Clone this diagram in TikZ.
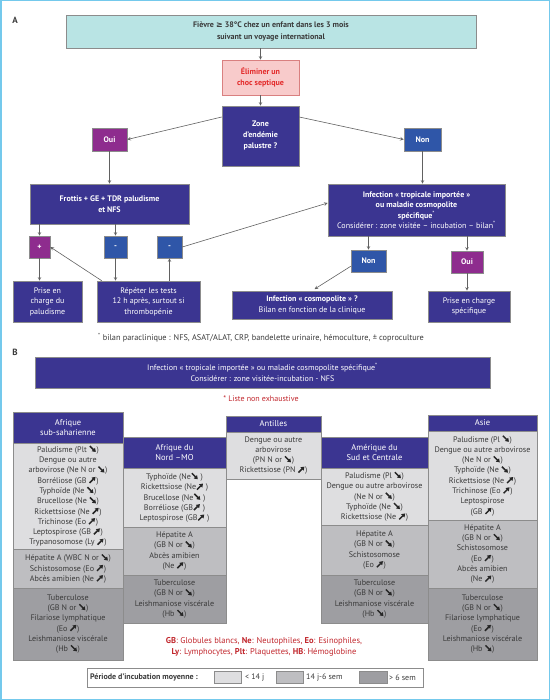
\documentclass[tikz,border=0pt]{standalone}
\usepackage{fontspec}
\setmainfont{PT Sans}
\newfontfamily\symfont{DejaVu Sans}
\usepackage{tikz}
\usetikzlibrary{arrows,arrows.meta,backgrounds,calc}

\definecolor{cadre}{HTML}{74C9EC}
\definecolor{cyanfond}{HTML}{B9E4E4}
\definecolor{rosefond}{HTML}{F8CBCB}
\definecolor{rosebord}{HTML}{D98080}
\definecolor{rougetxt}{HTML}{E32B2B}
\definecolor{rougelg}{HTML}{C1272D}
\definecolor{bleufonce}{HTML}{3B3591}
\definecolor{bleumoyen}{HTML}{2F56A8}
\definecolor{violet}{HTML}{8E2C8E}
\definecolor{gris1}{HTML}{DEDEE0}
\definecolor{gris2}{HTML}{BEBEC1}
\definecolor{gris3}{HTML}{9E9EA2}
\definecolor{bord}{HTML}{8C8C8C}
\definecolor{texte}{HTML}{3A3A3A}

% fleches grasses (baisse / hausse)
\newcommand{\bas}{\tikz[baseline=0pt, x=1pt, y=1pt]\draw[line width=1.5pt, -{Triangle[length=3.4pt,width=4.4pt]}, black!85] (0.3,6.3) -- (6.3,0.3);}
\newcommand{\haut}{\tikz[baseline=0pt, x=1pt, y=1pt]\draw[line width=1.5pt, -{Triangle[length=3.4pt,width=4.4pt]}, black!85] (0.3,0.3) -- (6.3,6.3);}

\tikzset{
  sz/.style 2 args={minimum width=#1, minimum height=#2},
  boite/.style={draw=bord, line width=0.6pt, align=center, inner sep=0pt,
    font=\fontsize{8}{10.5}\selectfont},
  cyanbox/.style={boite, fill=cyanfond, text=texte, font=\fontsize{8}{12}\selectfont\bfseries},
  rosebox/.style={boite, draw=rosebord, fill=rosefond, text=rougetxt, font=\fontsize{8}{10.5}\selectfont\bfseries},
  fonce/.style={boite, fill=bleufonce, text=white},
  moyen/.style={boite, fill=bleumoyen, text=white, font=\fontsize{8}{10.5}\selectfont\bfseries},
  vio/.style={boite, fill=violet, text=white, font=\fontsize{8}{10.5}\selectfont\bfseries},
  tete/.style={boite, fill=bleufonce, text=white, font=\fontsize{8.5}{10.8}\selectfont},
  clair/.style={boite, fill=gris1, text=texte, font=\fontsize{8.1}{10.3}\selectfont},
  mi/.style={clair, fill=gris2},
  sombre/.style={clair, fill=gris3},
  fl/.style={->, >=stealth, draw=texte!80, line width=0.6pt}
}

\begin{document}
\begin{tikzpicture}[x=1pt, y=-1pt]
\useasboundingbox (0,0) rectangle (550,700);
\draw[cadre, line width=1.5pt] (0.75,0.75) rectangle (549.25,699.25);

% partie A
\node[font=\fontsize{9}{10}\selectfont\bfseries, text=texte] (A) at (15,20) {A};
\node[cyanbox, sz={410}{33}] (1) at (271,31.5) {Fièvre {\symfont ≥} 38°C chez un enfant dans les 3 mois\\suivant un voyage international};
\node[rosebox, sz={77}{35}] (2) at (260.5,77.5) {Éliminer un\\choc septique};
\node[fonce, font=\fontsize{8}{11}\selectfont\bfseries, sz={77}{60}] (3) at (260.5,136) {Zone\\d’endémie\\palustre ?};
\node[vio, sz={35}{23}] (4) at (109.5,139.5) {Oui};
\node[moyen, sz={37}{23}] (5) at (422.5,139.5) {Non};
\node[fonce, font=\fontsize{8}{10.5}\selectfont\bfseries, sz={159}{40}] (6) at (109.5,204) {Frottis + GE + TDR paludisme\\et NFS};
\node[fonce, sz={177}{52}] (7) at (416.5,210) {\textbf{Infection « tropicale importée »}\\\textbf{ou maladie cosmopolite}\\\textbf{spécifique}\textsuperscript{*}\\Considérer : zone visitée – incubation – bilan\textsuperscript{*}};
\node[vio, sz={21}{22}] (8) at (39.5,247) {+};
\node[moyen, sz={23}{22}] (9) at (115.5,247) {-};
\node[moyen, sz={25}{22}] (10) at (169.5,247) {-};
\node[fonce, sz={69}{41}] (11) at (47.5,301.5) {Prise en\\charge du\\paludisme};
\node[fonce, sz={103}{41}] (12) at (148.5,301.5) {Répéter les tests\\12 h après, surtout si\\thrombopénie};
\node[moyen, sz={35}{22}] (13) at (368.5,261) {Non};
\node[vio, sz={32}{22}] (14) at (467,262) {Oui};
\node[fonce, sz={160}{28}] (15) at (312,305) {\textbf{Infection « cosmopolite » ?}\\Bilan en fonction de la clinique};
\node[fonce, sz={82}{31}] (16) at (469,306.5) {Prise en charge\\spécifique};
\node[text=texte, font=\fontsize{8.3}{10}\selectfont] (note) at (261,338) {\textsuperscript{*} bilan paraclinique : NFS, ASAT/ALAT, CRP, bandelette urinaire, hémoculture, ± coproculture};

\draw[fl] (1.south -| 2.north) -- (2.north);
\draw[fl] (2) -- (3);
\draw[fl] ([yshift=19pt]3.west) -- (4.east);
\draw[fl] ([yshift=19pt]3.east) -- (5.west);
\draw[fl] (4) -- (6);
\draw[fl] (5.south) -- (5.south |- 7.north);
\draw[fl] (6.south -| 8.north) -- (8.north);
\draw[fl] (6.south -| 9.north) -- (9.north);
\draw[fl] (10.east) -- ([yshift=7pt]7.west);
\draw[fl] (8) -- (8 |- 11.north);
\draw[fl] (9) -- (9 |- 12.north);
\draw[fl] ([xshift=5pt]12.north west) -- (8.east);
\draw[fl] (10 |- 12.north) -- (10.south);
\draw[fl] (13 |- 7.south) -- (13.north);
\draw[fl] (14 |- 7.south) -- (14.north);
\draw[fl, shorten >=3pt] ([yshift=6pt]13.south west) -- (15.north);
\draw[fl] (14) -- (14 |- 16.north);

% partie B
\node[font=\fontsize{9}{10}\selectfont\bfseries, text=texte] (B) at (15,352) {B};
\node[fonce, sz={455}{31}] (17) at (262.5,372.5) {Infection « tropicale importée » ou maladie cosmopolite spécifique\textsuperscript{*}\\Considérer : zone visitée-incubation - NFS};
\node[text=rougelg, font=\fontsize{8}{10}\selectfont] (liste) at (261,399) {* Liste non exhaustive};

% Afrique sub-saharienne
\node[tete, sz={110}{31}] (ss) at (68,427.5) {Afrique\\sub-saharienne};
\node[clair, sz={110}{106}] (ss1) at (68,496) {Paludisme (Plt \bas)\\Dengue ou autre\\arbovirose (Ne N or \bas)\\Borréliose (GB \haut)\\Typhoïde (Ne \bas)\\Brucellose (Ne \bas)\\Rickettsiose (Ne \haut)\\Trichinose (Eo \haut)\\Leptospirose (GB \haut)\\Trypanosomose (Ly \haut)};
\node[mi, sz={110}{39}] (ss2) at (68,568.5) {Hépatite A (WBC N or \bas)\\Schistosomose (Eo \haut)\\Abcès amibien (Ne \haut)};
\node[sombre, sz={110}{72}] (ss3) at (68,624) {Tuberculose\\(GB N or \bas)\\Filariose lymphatique\\(Eo \haut)\\Leishmaniose viscérale\\(Hb \bas)};

% Afrique du Nord
\node[tete, sz={103}{31}] (an) at (174.5,452.5) {Afrique du\\Nord –MO};
\node[clair, sz={103}{59}] (an1) at (174.5,497.5) {Typhoïde (Ne\bas{} )\\Rickettsiose (Ne\haut{} )\\Brucellose (Ne\bas{} )\\Borréliose (GB\haut{} )\\Leptospirose (GB\haut{} )};
\node[mi, sz={103}{48}] (an2) at (174.5,551) {Hépatite A\\(GB N or \bas)\\Abcès amibien\\(Ne \haut)};
\node[sombre, sz={103}{48}] (an3) at (174.5,599) {Tuberculose\\(GB N or \bas)\\Leishmaniose viscérale\\(Hb \bas)};

% Antilles
\node[tete, sz={95}{16}] (at) at (273.5,424) {Antilles};
\node[clair, sz={95}{47}] (at1) at (273.5,455.5) {Dengue ou autre\\arbovirose\\(PN N or \bas)\\Rickettsiose (PN \haut)};

% Amerique
\node[tete, sz={107}{31}] (am) at (374.5,452.5) {Amérique du\\Sud et Centrale};
\node[clair, sz={107}{57}] (am1) at (374.5,496.5) {Paludisme (Pl \bas)\\Dengue ou autre arbovirose\\(Ne N or \bas)\\Typhoïde (Ne \bas)\\Rickettsiose (Ne \haut)};
\node[mi, sz={107}{50}] (am2) at (374.5,550) {Hépatite A\\(GB N or \bas)\\Schistosomose\\(Eo \haut)};
\node[sombre, sz={107}{48}] (am3) at (374.5,599) {Tuberculose\\(GB N or \bas)\\Leishmaniose viscérale\\(Hb \bas)};

% Asie
\node[tete, sz={109}{16}] (as) at (482.5,423) {Asie};
\node[clair, sz={109}{89}] (as1) at (482.5,475.5) {Paludisme (Pl \bas)\\Dengue ou autre arbovirose\\(Ne N or \bas)\\Typhoïde (Ne \bas)\\Rickettsiose (Ne \haut)\\Trichinose (Eo \haut)\\Leptospirose\\(GB \haut)};
\node[mi, sz={109}{68}] (as2) at (482.5,554) {Hépatite A\\(GB N or \bas)\\Schistosomose\\(Eo \haut)\\Abcès amibien\\(Ne \haut)};
\node[sombre, sz={109}{72}] (as3) at (482.5,624) {Tuberculose\\(GB N or \bas)\\Filariose lymphatique\\(Eo \haut)\\Leishmaniose viscérale\\(Hb \bas)};

% abreviations et legende
\node[text=rougelg, align=center, font=\fontsize{8.5}{10.5}\selectfont] (abr) at (264,647) {\textbf{GB}: Globules blancs, \textbf{Ne}: Neutophiles, \textbf{Eo}: Esinophiles,\\\textbf{Ly}: Lymphocytes, \textbf{Plt}: Plaquettes, \textbf{HB}: Hémoglobine};
\node[boite, fill=white, sz={336}{19}] (leg) at (255,677.5) {};
\node[anchor=west, inner sep=0pt, text=texte, font=\fontsize{8}{10}\selectfont\bfseries] (per) at (90,677.5) {Période d’incubation moyenne :};
\node[boite, fill=gris1, sz={27}{12}] (s1) at (227.5,677) {};
\node[anchor=west, inner sep=0pt, text=texte, font=\fontsize{8}{10}\selectfont] (t1) at (245,677.5) {< 14 j};
\node[boite, fill=gris2, sz={27}{12}] (s2) at (289.5,677) {};
\node[anchor=west, inner sep=0pt, text=texte, font=\fontsize{8}{10}\selectfont] (t2) at (306,677.5) {14 j-6 sem};
\node[boite, fill=gris3, sz={28}{12}] (s3) at (373,677) {};
\node[anchor=west, inner sep=0pt, text=texte, font=\fontsize{8}{10}\selectfont] (t3) at (389,677.5) {> 6 sem};
\end{tikzpicture}
\end{document}
